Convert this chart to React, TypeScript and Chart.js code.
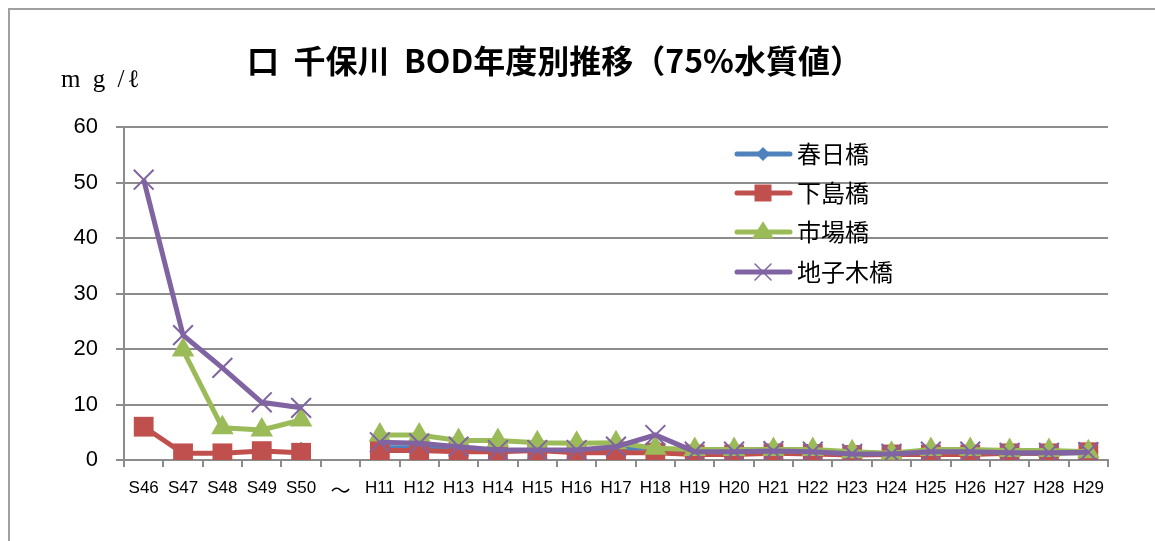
import React, { useEffect, useRef } from 'react';
import { Chart, registerables } from 'chart.js';

Chart.register(...registerables);

const TITLE = '口  千保川  BOD年度別推移（75%水質値）';
const UNIT_LABEL = 'm g /ℓ';

const categories = [
  'S46', 'S47', 'S48', 'S49', 'S50', '～',
  'H11', 'H12', 'H13', 'H14', 'H15', 'H16', 'H17', 'H18', 'H19', 'H20',
  'H21', 'H22', 'H23', 'H24', 'H25', 'H26', 'H27', 'H28', 'H29',
];

const seriesNames = ['春日橋', '下島橋', '市場橋', '地子木橋'];

const kasugaBashi = [
  null, null, null, null, 1.5, null,
  2.2, 2.2, 1.9, 1.7, 1.7, 1.7, 2.0, 2.2, 1.3, 1.3,
  1.4, 1.3, 1.0, 1.0, 1.3, 1.3, 1.2, 1.2, 1.3,
];

const shimojimaBashi = [
  6.0, 1.2, 1.2, 1.6, 1.3, null,
  1.7, 1.7, 1.5, 1.5, 1.7, 1.3, 1.3, 1.3, 1.0, 1.0,
  1.2, 1.1, 0.9, 1.0, 1.0, 1.0, 1.2, 1.2, 1.4,
];

const ichibaBashi = [
  null, 19.8, 5.8, 5.4, 7.2, null,
  4.5, 4.5, 3.5, 3.5, 3.1, 3.0, 3.1, 2.1, 1.9, 1.9,
  1.9, 1.9, 1.5, 1.2, 1.9, 1.9, 1.7, 1.7, 1.5,
];

const jishikiBashi = [
  50.5, 22.5, 16.6, 10.4, 9.4, null,
  3.2, 3.0, 2.4, 1.8, 1.8, 1.8, 2.4, 4.5, 1.5, 1.5,
  1.6, 1.5, 1.1, 1.1, 1.5, 1.5, 1.3, 1.3, 1.4,
];

const yMin = 0;
const yMax = 60;
const yStep = 10;

const COLORS = ['#4F81BD', '#C0504D', '#9BBB59', '#8064A2'];
const STYLES = ['rectRot', 'rect', 'triangle', 'crossRot'];
const RADII = [10, 14, 13, 14];

function drawMarker(ctx: CanvasRenderingContext2D, style: string, x: number, y: number, r: number, color: string) {
  ctx.save();
  ctx.fillStyle = color;
  ctx.strokeStyle = color;
  ctx.beginPath();
  if (style === 'rectRot') {
    ctx.moveTo(x - r, y);
    ctx.lineTo(x, y - r);
    ctx.lineTo(x + r, y);
    ctx.lineTo(x, y + r);
    ctx.closePath();
    ctx.fill();
  } else if (style === 'rect') {
    ctx.rect(x - r, y - r, 2 * r, 2 * r);
    ctx.fill();
  } else if (style === 'triangle') {
    const h = r * 1.3;
    ctx.moveTo(x, y - h * 0.75);
    ctx.lineTo(x + r, y + h * 0.45);
    ctx.lineTo(x - r, y + h * 0.45);
    ctx.closePath();
    ctx.fill();
  } else {
    ctx.lineWidth = 1.5;
    ctx.moveTo(x - r, y - r);
    ctx.lineTo(x + r, y + r);
    ctx.moveTo(x + r, y - r);
    ctx.lineTo(x - r, y + r);
    ctx.stroke();
  }
  ctx.restore();
}

const overlayPlugin = {
  id: 'overlay',
  afterDraw(chart: any) {
    const ctx: any = chart.ctx;
    ctx.save();
    ctx.fillStyle = '#000';
    ctx.textBaseline = 'middle';
    ctx.textAlign = 'left';
    ctx.font = 'bold 32px "Noto Sans CJK JP"';
    ctx.fillText(TITLE, 247, 61);
    ctx.font = '25px "Liberation Serif"';
    ctx.letterSpacing = '3px';
    ctx.fillText(UNIT_LABEL, 61, 80);
    ctx.letterSpacing = '0px';

    // legend
    const legendYs = [154, 193, 232, 272];
    seriesNames.forEach((name, i) => {
      const y = legendYs[i];
      ctx.strokeStyle = COLORS[i];
      ctx.lineWidth = 5;
      ctx.lineCap = 'round';
      ctx.beginPath();
      ctx.moveTo(737, y);
      ctx.lineTo(790, y);
      ctx.stroke();
      const legR = [7, 8.5, 11, 8][i];
      drawMarker(ctx, STYLES[i], 763, y, legR, COLORS[i]);
      ctx.fillStyle = '#000';
      ctx.font = '24px "Noto Sans CJK JP"';
      ctx.textBaseline = 'middle';
      ctx.fillText(name, 797, y);
    });
    ctx.restore();
  },
};

export default function App() {
  const ref = useRef<HTMLCanvasElement>(null);

  useEffect(() => {
    const seriesData = [kasugaBashi, shimojimaBashi, ichibaBashi, jishikiBashi];
    const chart = new Chart(ref.current as HTMLCanvasElement, {
      type: 'line',
      data: {
        labels: categories,
        datasets: seriesNames.map((name, i) => ({
          label: name,
          data: seriesData[i],
          borderColor: COLORS[i],
          backgroundColor: COLORS[i],
          pointBackgroundColor: COLORS[i],
          pointBorderColor: COLORS[i],
          pointStyle: STYLES[i] as any,
          pointRadius: RADII[i],
          pointBorderWidth: i === 3 ? 2 : 0,
          borderWidth: 5,
          spanGaps: false,
          tension: 0,
          order: 4 - i,
        })),
      },
      options: {
        responsive: false,
        animation: false,
        layout: { padding: { top: 127, right: 47, left: 0, bottom: 0 } },
        plugins: {
          legend: { display: false },
          title: { display: false },
          tooltip: { enabled: false },
        },
        scales: {
          x: {
            type: 'category',
            offset: true,
            grid: {
              offset: true,
              drawOnChartArea: false,
              drawTicks: true,
              tickLength: 7,
              color: '#8c8c8c',
              lineWidth: 2,
            },
            border: { color: '#8c8c8c', width: 2 },
            ticks: {
              color: '#000',
              font: (c: any) =>
                c.tick && c.tick.label === '～'
                  ? { family: '"Noto Sans CJK JP"', size: 20 }
                  : { family: '"Liberation Sans"', size: 17 },
              maxRotation: 0,
              autoSkip: false,
              padding: 11,
            },
            afterFit: (s: any) => {
              s.height = 541 - 460;
            },
          },
          y: {
            min: yMin,
            max: yMax,
            ticks: {
              stepSize: yStep,
              color: '#000',
              font: { family: '"Liberation Sans"', size: 22 },
              padding: 18,
            },
            grid: { color: '#8c8c8c', lineWidth: 2, tickLength: 8 },
            border: { color: '#8c8c8c', width: 2 },
            afterFit: (s: any) => {
              s.width = 124;
            },
          },
        },
      },
      plugins: [overlayPlugin],
    });
    return () => chart.destroy();
  }, []);

  return (
    <div style={{ position: 'fixed', left: 0, top: 0, width: 1155, height: 541, background: '#fff', overflow: 'hidden' }}>
      <div style={{ position: 'absolute', left: 8, top: 8, width: 1300, height: 700, border: '2px solid #a0a0a0' }} />
      <canvas
        ref={ref}
        width={1155}
        height={541}
        style={{ position: 'absolute', left: 0, top: 0, width: 1155, height: 541 }}
      />
    </div>
  );
}
